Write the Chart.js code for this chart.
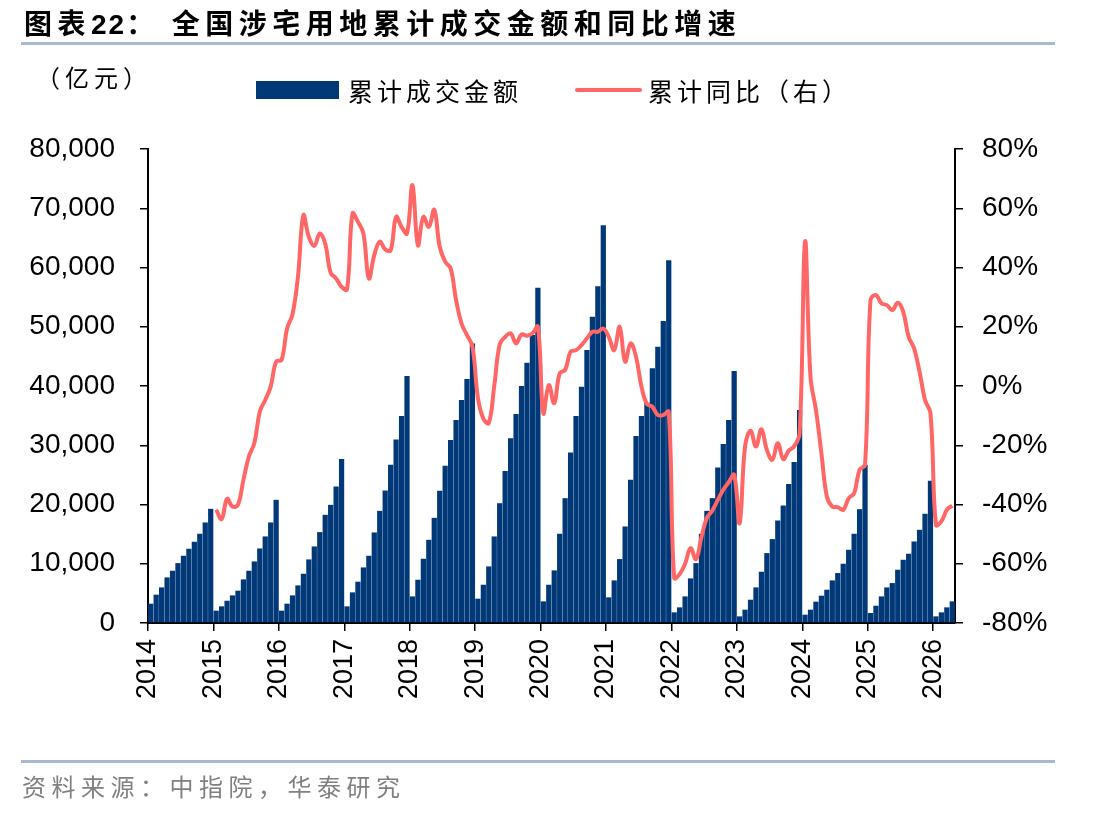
<!DOCTYPE html>
<html lang="zh-CN">
<head>
<meta charset="utf-8">
<title>全国涉宅用地累计成交金额和同比增速</title>
<script src="https://cdn.jsdelivr.net/npm/chart.js@4.4.1/dist/chart.umd.min.js"></script>
<style>
  html, body { margin: 0; padding: 0; background: #fff; }
  body { width: 1112px; height: 816px; position: relative; overflow: hidden; font-family: "Noto Sans CJK SC", sans-serif; }
  #grafica { position: absolute; left: 0; top: 0; }
  .texto { position: absolute; white-space: nowrap; color: #000; }
  #titulo { left: 24px; top: 6px; font-size: 28px; line-height: 32px; font-weight: 700; letter-spacing: 5.5px; }
  #titulo .num { font-family: "Liberation Sans", Arial, sans-serif; letter-spacing: 2px; }
  #titulo .resto { margin-left: 12px; }
  .linea { position: absolute; left: 21px; width: 1034px; height: 3px; background: #A7B9CF; }
  #unidad { left: 36px; top: 63px; font-size: 24px; line-height: 28px; letter-spacing: 5px; }
  .leyenda { top: 76px; font-size: 25px; line-height: 28px; letter-spacing: 4px; }
  #cajaBarra { position: absolute; left: 256px; top: 81px; width: 83px; height: 18px; background: #003878; }
  #cajaLinea { position: absolute; left: 575px; top: 88px; width: 67px; height: 4px; background: #FF6666; border-radius: 2px; }
  #fuente { left: 22px; top: 772px; font-size: 24px; line-height: 28px; letter-spacing: 5.5px; color: #808080; }
</style>
</head>
<body>
<canvas id="grafica" width="1112" height="816"></canvas>

<div class="texto" id="titulo">图表<span class="num">22</span>：<span class="resto">全国涉宅用地累计成交金额和同比增速</span></div>
<div class="linea" style="top:42px"></div>

<div class="texto" id="unidad">（亿元）</div>
<div id="cajaBarra"></div>
<div class="texto leyenda" style="left:348px">累计成交金额</div>
<div id="cajaLinea"></div>
<div class="texto leyenda" style="left:648px">累计同比（右）</div>

<div class="linea" style="top:760px"></div>
<div class="texto" id="fuente">资料来源：中指院，华泰研究</div>

<script>
// Años del eje X (un tick cada 12 meses, desde 2014-01)
const anios = ['2014', '2015', '2016', '2017', '2018', '2019', '2020', '2021', '2022', '2023', '2024', '2025', '2026'];

// 累计成交金额 (亿元), mensual 2014-01 ... 2026-04
const monto2014 = [3260, 4780, 6010, 7700, 8820, 10110, 11350, 12530, 13710, 15060, 16970, 19270];
const monto2015 = [2080, 2810, 3760, 4660, 5450, 7360, 8820, 10390, 12580, 14610, 16970, 20790];
const monto2016 = [2080, 3260, 4660, 6350, 8310, 10730, 12920, 15340, 18260, 19940, 23030, 27700];
const monto2017 = [2810, 5170, 6970, 9380, 11350, 15280, 18930, 22360, 26690, 30960, 34940, 41690];
const monto2018 = [4490, 7300, 10840, 14040, 17750, 22300, 26520, 30900, 34270, 37640, 41180, 47190];
const monto2019 = [4100, 6460, 9550, 14610, 20220, 25670, 31180, 35280, 40000, 43930, 48600, 56570];
const monto2020 = [3650, 6460, 8880, 15060, 21070, 28760, 34940, 39890, 46070, 51690, 56850, 67130];
const monto2021 = [4330, 7190, 10790, 16290, 24160, 31570, 34940, 37190, 42980, 46630, 50960, 61240];
const monto2022 = [1800, 2640, 4490, 7530, 10110, 15060, 18930, 21070, 26240, 30220, 34270, 42530];
const monto2023 = [1120, 2250, 3930, 6010, 8650, 11800, 14160, 17300, 19830, 23480, 27190, 35960];
const monto2024 = [1400, 2250, 3600, 4610, 5620, 7190, 8430, 10000, 12360, 15060, 19210, 26690];
const monto2025 = [1690, 2920, 4490, 6010, 6740, 8990, 10670, 11690, 13760, 15730, 18430, 23990];
const monto2026 = [1120, 1800, 2640, 3650];

// 累计同比 (%), mensual desde 2015-01
const yoy2015 = [-41.8, -44.9, -38.1, -40.7, -40.1, -31.7, -23.8, -19.3, -8.7, -4.7, -0.2, 8.2];
const yoy2016 = [8.8, 19.4, 24.2, 36.9, 57.6, 50.3, 47.3, 51.5, 48.1, 38.2, 36.3, 33.5];
const yoy2017 = [32.6, 58.2, 55.4, 51.5, 36.3, 44.2, 48.7, 46.1, 45.8, 57.1, 53.7, 51.5];
const yoy2018 = [67.8, 47.5, 57.1, 53.7, 59.5, 47.0, 42.0, 39.7, 29.0, 21.1, 17.2, 13.3];
const yoy2019 = [-4.0, -11.0, -12.5, 0.0, 14.0, 16.6, 17.8, 14.4, 17.4, 17.0, 17.8, 20.0];
const yoy2020 = [-9.2, 0.3, -5.8, 4.3, 5.4, 11.6, 12.1, 13.8, 16.1, 18.3, 18.3, 19.4];
const yoy2021 = [16.6, 12.1, 20.0, 8.2, 14.4, 9.9, -0.2, -6.1, -7.0, -9.8, -9.8, -8.7];
const yoy2022 = [-64.8, -63.5, -60.0, -54.7, -58.5, -51.0, -44.5, -42.0, -38.5, -35.0, -32.5, -30.0];
const yoy2023 = [-46.3, -20.4, -15.1, -20.4, -14.6, -21.6, -24.9, -19.3, -24.7, -21.8, -20.4, -16.0];
const yoy2024 = [48.7, 3.1, -8.1, -22.7, -37.3, -40.7, -40.9, -41.8, -37.9, -36.2, -28.3, -26.6];
const yoy2025 = [29.0, 30.7, 27.9, 27.3, 25.6, 28.1, 25.1, 16.6, 12.7, 4.8, -4.7, -9.2];
const yoy2026 = [-46.9, -45.7, -41.8, -40.4];

const montoAcumulado = [].concat(monto2014, monto2015, monto2016, monto2017, monto2018, monto2019,
    monto2020, monto2021, monto2022, monto2023, monto2024, monto2025, monto2026);
const variacionAnual = [].concat(yoy2015, yoy2016, yoy2017, yoy2018, yoy2019, yoy2020,
    yoy2021, yoy2022, yoy2023, yoy2024, yoy2025, yoy2026);

const totalMeses = montoAcumulado.length; // 148
const inicioYoy = 12; // la línea empieza en 2015-01

function crearGrafica() {
    const ctx = document.getElementById('grafica').getContext('2d');
    Chart.defaults.font.family = '"Liberation Sans", Arial, sans-serif';
    Chart.defaults.color = '#000';

    const barras = montoAcumulado.map((v, i) => ({ x: i + 0.5, y: v }));
    const linea = variacionAnual.map((v, i) => ({ x: i + inicioYoy + 0.5, y: v }));

    new Chart(ctx, {
        type: 'bar',
        data: {
            datasets: [{
                type: 'line',
                label: '累计同比（右）',
                data: linea,
                yAxisID: 'yDer',
                borderColor: '#FF6666',
                borderWidth: 4,
                pointRadius: 0,
                tension: 0.4,
                fill: false,
                order: 0
            }, {
                label: '累计成交金额',
                data: barras,
                yAxisID: 'yIzq',
                backgroundColor: '#003878',
                borderWidth: 0,
                categoryPercentage: 1,
                barPercentage: 0.96,
                order: 1
            }]
        },
        options: {
            responsive: false,
            animation: false,
            layout: { padding: { left: 0, right: 0, top: 149, bottom: 0 } },
            plugins: { legend: { display: false }, tooltip: { enabled: false } },
            scales: {
                x: {
                    type: 'linear',
                    min: 0,
                    max: totalMeses,
                    offset: false,
                    afterFit: (s) => { s.height = 193; },
                    // un tick por año (enero)
                    afterBuildTicks: (s) => { s.ticks = anios.map((a, i) => ({ value: i * 12 })); },
                    grid: { offset: false, drawOnChartArea: false, tickLength: 8, color: '#000', lineWidth: 1.5 },
                    border: { color: '#000', width: 2 },
                    ticks: {
                        autoSkip: false,
                        minRotation: 90,
                        maxRotation: 90,
                        padding: 8,
                        font: { size: 27 },
                        callback: (v) => anios[Math.round(v / 12)]
                    }
                },
                yIzq: {
                    position: 'left',
                    min: 0,
                    max: 80000,
                    afterFit: (s) => { s.width = 148; },
                    grid: { drawOnChartArea: false, tickLength: 8, color: '#000', lineWidth: 1.5 },
                    border: { color: '#000', width: 2 },
                    ticks: {
                        stepSize: 10000,
                        padding: 25,
                        font: { size: 28 },
                        callback: (v) => v.toLocaleString('en-US')
                    }
                },
                yDer: {
                    position: 'right',
                    min: -80,
                    max: 80,
                    afterFit: (s) => { s.width = 157; },
                    grid: { drawOnChartArea: false, tickLength: 8, color: '#000', lineWidth: 1.5 },
                    border: { color: '#000', width: 2 },
                    ticks: {
                        stepSize: 20,
                        padding: 19,
                        font: { size: 28 },
                        callback: (v) => v + '%'
                    }
                }
            }
        }
    });
}

document.addEventListener('DOMContentLoaded', () => {
    crearGrafica();
});
</script>
</body>
</html>
